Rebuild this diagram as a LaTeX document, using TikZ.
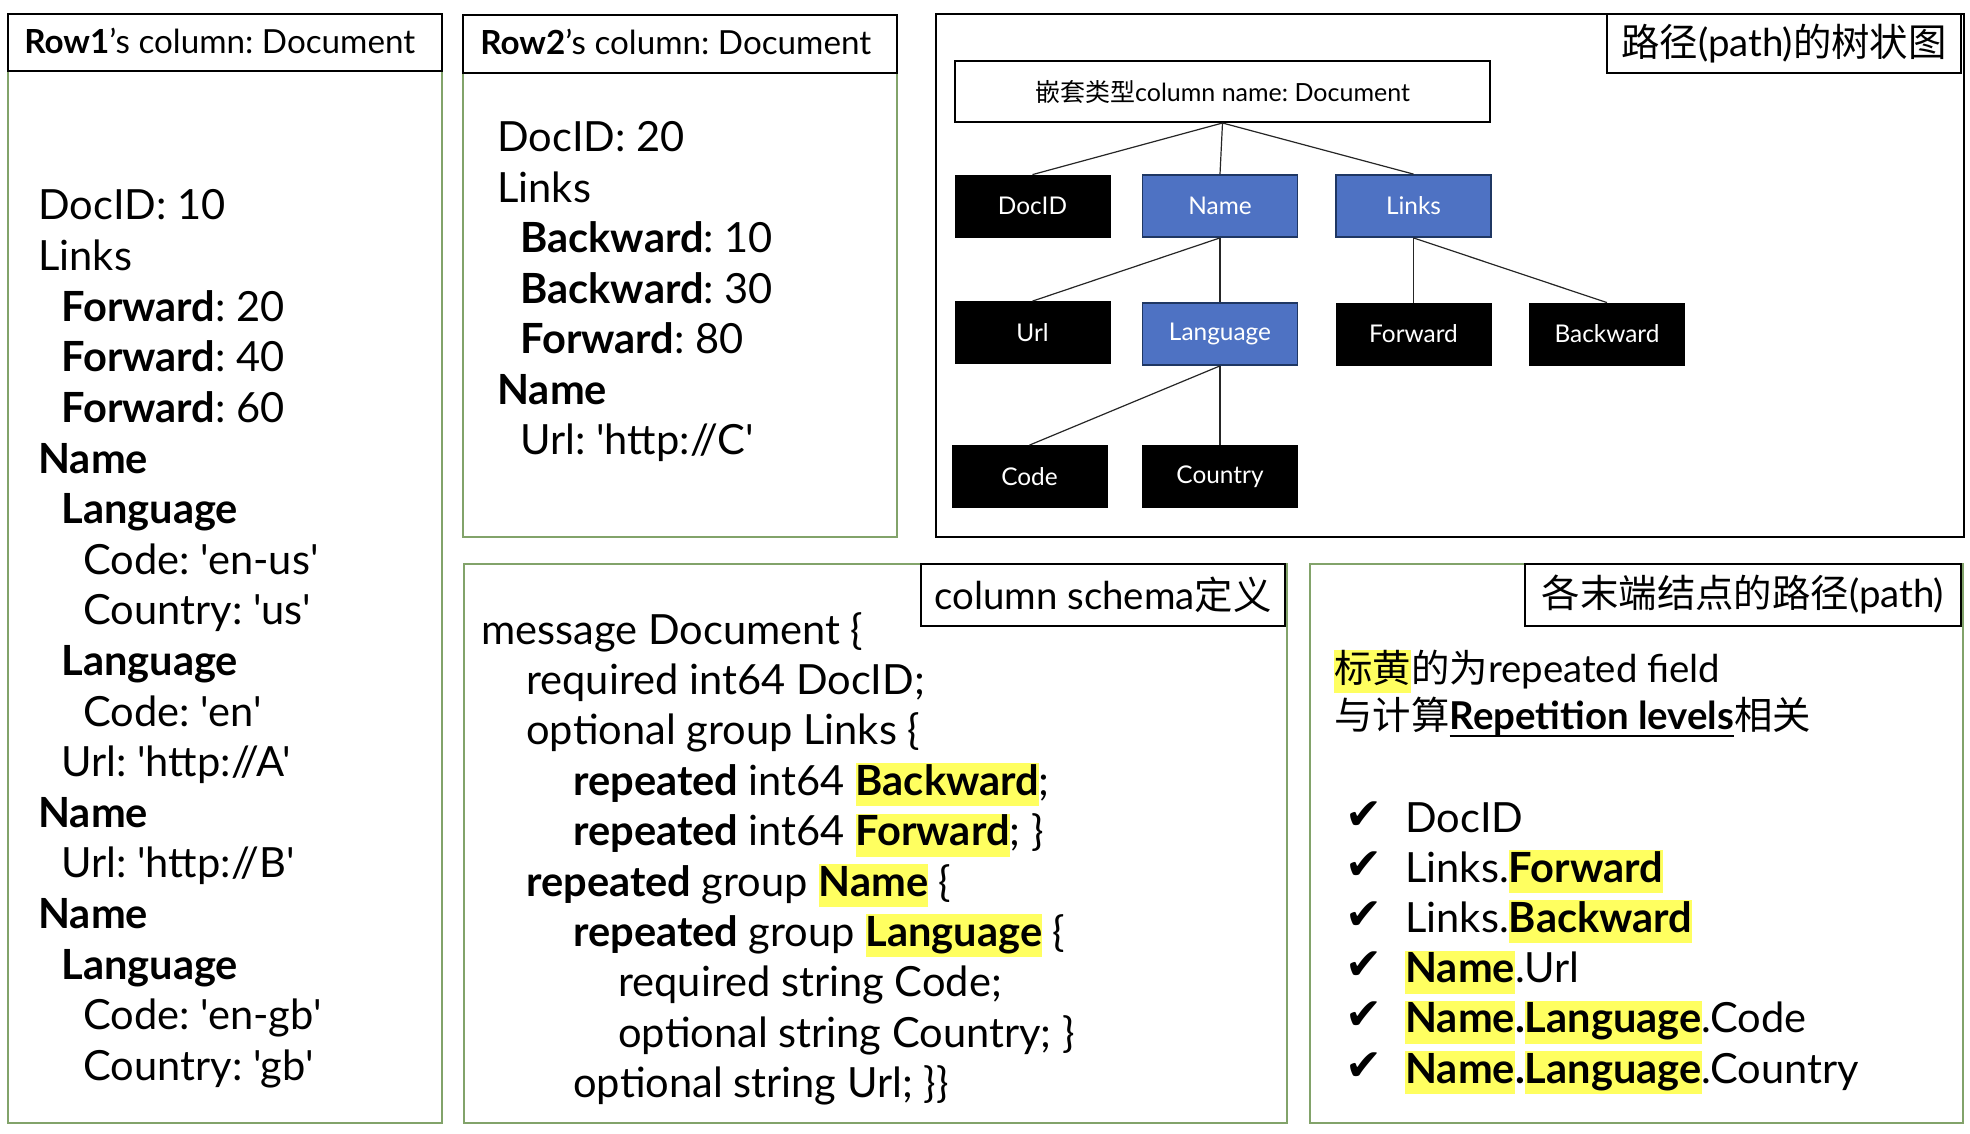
\documentclass[tikz,border=0pt]{standalone}
\usepackage{fontspec}
\setmainfont{Lato}[Ligatures=TeXOff]
\newfontfamily\cjk{Noto Sans CJK SC}
\newfontfamily\dejavu{DejaVu Sans}
\definecolor{framegreen}{HTML}{82A36A}
\definecolor{hlyellow}{HTML}{FFFF60}
\definecolor{nodeblue}{HTML}{4E72C3}
\definecolor{nodeborder}{HTML}{1F3763}
\newcommand\sq{'}
\newcommand\hl[1]{{\setlength{\fboxsep}{0pt}\colorbox{hlyellow}{\rule[-5.5pt]{0pt}{21.5pt}#1}}}
\newcommand\thickul[1]{\setbox0\hbox{#1}\rlap{\rule[-4.2pt]{\wd0}{1.1pt}}\box0}
\frenchspacing
\tikzset{
  greenbox/.style={draw=framegreen, line width=1pt, inner sep=0pt, anchor=north west},
  blackframe/.style={draw=black, line width=1pt, inner sep=0pt, anchor=north west},
  hdrbox/.style={draw=black, line width=1pt, fill=white, inner sep=0pt, anchor=north west},
  hdrtext/.style={anchor=base west, inner sep=0pt, font=\fontsize{16.6}{20}\selectfont},
  titlebox/.style={draw=black, line width=1pt, fill=white, inner sep=0pt, anchor=north east, font=\fontsize{19.2}{23}\selectfont},
  body/.style={anchor=base west, inner sep=0pt, font=\fontsize{20.8}{25}\selectfont},
  note/.style={anchor=base west, inner sep=0pt, font=\fontsize{19.2}{23}\selectfont},
  tick/.style={anchor=base west, inner sep=0pt, font=\dejavu\fontsize{22}{26}\selectfont},
  leaf/.style={draw=black, fill=black, text=white, minimum width=77.5pt, minimum height=31pt, inner sep=0pt, font=\fontsize{12.2}{15}\selectfont},
  inner/.style={leaf, fill=nodeblue, draw=nodeborder, line width=0.9pt},
  rootbox/.style={draw=black, line width=1pt, minimum width=267.5pt, minimum height=30.5pt, inner sep=0pt, font=\fontsize{12.5}{15}\selectfont},
  edge/.style={draw=black!85, line width=0.6pt}
}
\begin{document}
\begin{tikzpicture}[x=0.5pt,y=-0.5pt]
\useasboundingbox[fill=white] (0,0) rectangle (1970,1134);

% ---------- Panel 1 ----------
\node[greenbox, minimum width=217pt, minimum height=554.5pt] (f1) at (7,13) {};
\node[hdrbox, minimum width=217pt, minimum height=28.5pt] (h1) at (7,13) {};
\node[hdrtext] (h1t) at (24,54) {\textbf{Row1}’s column: Document};
\node[body] (a0) at (38,220) {DocID: 10};
\node[body] (a1) at (38,270.6) {Links};
\node[body] (a2) at (61,321.2) {\textbf{Forward}: 20};
\node[body] (a3) at (61,371.8) {\textbf{Forward}: 40};
\node[body] (a4) at (61,422.4) {\textbf{Forward}: 60};
\node[body] (a5) at (38,473) {\textbf{Name}};
\node[body] (a6) at (61,523.6) {\textbf{Language}};
\node[body] (a7) at (83,574.2) {Code: \sq en-us\sq};
\node[body] (a8) at (83,624.8) {Country: \sq us\sq};
\node[body] (a9) at (61,675.4) {\textbf{Language}};
\node[body] (a10) at (83,726) {Code: \sq en\sq};
\node[body] (a11) at (61,776.6) {Url: \sq http://A\sq};
\node[body] (a12) at (38,827.2) {\textbf{Name}};
\node[body] (a13) at (61,877.8) {Url: \sq http://B\sq};
\node[body] (a14) at (38,928.4) {\textbf{Name}};
\node[body] (a15) at (61,979) {\textbf{Language}};
\node[body] (a16) at (83,1029.6) {Code: \sq en-gb\sq};
\node[body] (a17) at (83,1080.2) {Country: \sq gb\sq};

% ---------- Panel 2 ----------
\node[greenbox, minimum width=217pt, minimum height=261pt] (f2) at (462,14) {};
\node[hdrbox, minimum width=217pt, minimum height=29pt] (h2) at (462,14) {};
\node[hdrtext] (h2t) at (480,55) {\textbf{Row2}’s column: Document};
\node[body] (b0) at (497,152) {DocID: 20};
\node[body] (b1) at (497,202.4) {Links};
\node[body] (b2) at (520,252.8) {\textbf{Backward}: 10};
\node[body] (b3) at (520,303.2) {\textbf{Backward}: 30};
\node[body] (b4) at (520,353.6) {\textbf{Forward}: 80};
\node[body] (b5) at (497,404) {\textbf{Name}};
\node[body] (b6) at (520,454.4) {Url: \sq http://C\sq};

% ---------- Panel 3: tree ----------
\node[blackframe, minimum width=514pt, minimum height=261.5pt] (f3) at (935,13) {};
\node[titlebox, minimum width=177pt, minimum height=29.5pt] (t3) at (1962,13) {{\cjk 路径}(path){\cjk 的树状图}};
\node[rootbox] (root) at (1222.5,91.5) {{\cjk 嵌套类型}column name: Document};
\node[leaf] (docid) at (1032.5,206) {DocID};
\node[inner] (name) at (1220,206) {Name};
\node[inner] (links) at (1413.5,206) {Links};
\node[leaf] (url) at (1032.5,332.5) {Url};
\node[inner] (lang) at (1220,334) {Language};
\node[leaf] (fwd) at (1413.5,334) {Forward};
\node[leaf] (bwd) at (1607,334) {Backward};
\node[leaf] (code) at (1029.5,476.5) {Code};
\node[leaf] (country) at (1220,476.5) {Country};
\draw[edge] (root.south) -- (docid.north);
\draw[edge] (root.south) -- (name.north);
\draw[edge] (root.south) -- (links.north);
\draw[edge] (name.south) -- (url.north);
\draw[edge] (name.south) -- (lang.north);
\draw[edge] (links.south) -- (fwd.north);
\draw[edge] (links.south) -- (bwd.north);
\draw[edge] (lang.south) -- (code.north);
\draw[edge] (lang.south) -- (country.north);

% ---------- Panel 4: schema ----------
\node[greenbox, minimum width=411.5pt, minimum height=279.5pt] (f4) at (463,563) {};
\node[titlebox, minimum width=182pt, minimum height=31pt] (t4) at (1286,563) {column schema{\cjk 定义}};
\node[body] (c0) at (481,644) {message Document \{};
\node[body] (c1) at (526,694.4) {required int64 DocID;};
\node[body] (c2) at (526,744.8) {optional group Links \{};
\node[body] (c3) at (573,795.2) {\textbf{repeated} int64 \hl{\textbf{Backward}};};
\node[body] (c4) at (573,845.6) {\textbf{repeated} int64 \hl{\textbf{Forward}}; \}};
\node[body] (c5) at (526,896) {\textbf{repeated} group \hl{\textbf{Name}} \{};
\node[body] (c6) at (573,946.4) {\textbf{repeated} group \hl{\textbf{Language}} \{};
\node[body] (c7) at (618,996.8) {required string Code;};
\node[body] (c8) at (618,1047.2) {optional string Country; \}};
\node[body] (c9) at (573,1097.6) {optional string Url; \}\}};

% ---------- Panel 5: paths ----------
\node[greenbox, minimum width=326.5pt, minimum height=279.5pt] (f5) at (1309,563) {};
\node[titlebox, minimum width=218pt, minimum height=31pt] (t5) at (1962,563) {{\cjk 各末端结点的路径}(path)};
\node[note] (n0) at (1334,682) {\hl{\cjk 标黄}{\cjk 的为}repeated field};
\node[note] (n1) at (1334,729) {{\cjk 与计算}\thickul{\textbf{Repetition levels}}{\cjk 相关}};
\node[tick] (k0) at (1345,829) {✔};
\node[tick] (k1) at (1345,879.2) {✔};
\node[tick] (k2) at (1345,929.4) {✔};
\node[tick] (k3) at (1345,979.6) {✔};
\node[tick] (k4) at (1345,1029.8) {✔};
\node[tick] (k5) at (1345,1080) {✔};
\node[body] (d0) at (1405,832) {DocID};
\node[body] (d1) at (1405,882.2) {Links.\hl{\textbf{Forward}}};
\node[body] (d2) at (1405,932.4) {Links.\hl{\textbf{Backward}}};
\node[body] (d3) at (1405,982.6) {\hl{\textbf{Name}}.Url};
\node[body] (d4) at (1405,1032.8) {\hl{\textbf{Name}}\textbf{.}\hl{\textbf{Language}}.Code};
\node[body] (d5) at (1405,1083) {\hl{\textbf{Name}}\textbf{.}\hl{\textbf{Language}}.Country};
\end{tikzpicture}
\end{document}
